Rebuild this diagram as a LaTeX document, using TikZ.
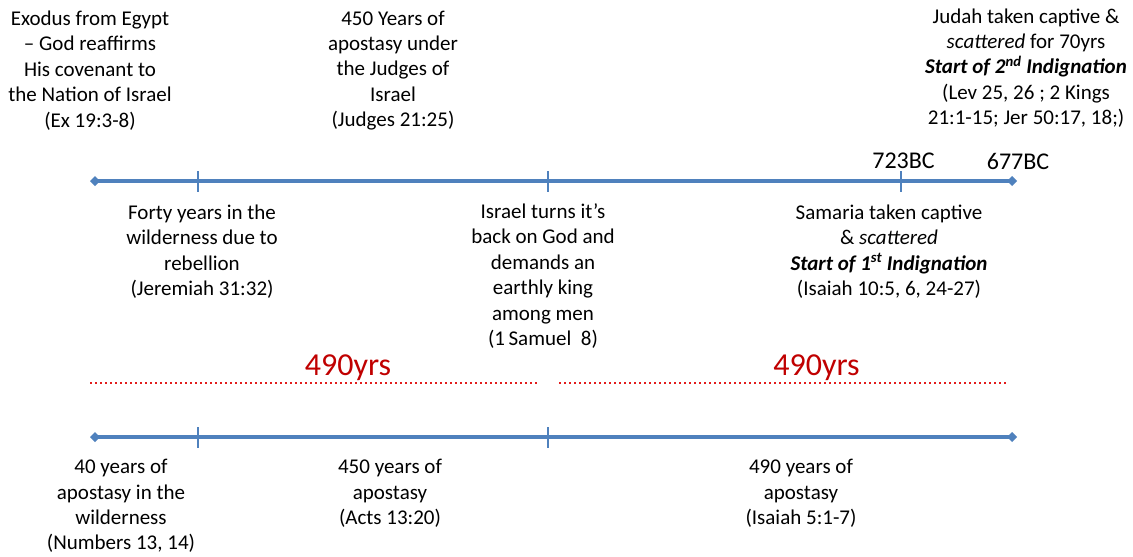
\documentclass[tikz,border=0pt]{standalone}
\usepackage{fontspec}
\setmainfont{Carlito}
\usetikzlibrary{arrows.meta}
\definecolor{lineblue}{RGB}{79,129,189}
\definecolor{spanred}{RGB}{192,0,0}
\definecolor{dotred}{RGB}{226,28,28}
\tikzset{
  axis/.style={lineblue,line width=3.4pt,
               {Turned Square[length=10pt,width=10pt]}-{Turned Square[length=10pt,width=10pt]}},
  tick/.style={lineblue,line width=2.4pt},
  span/.style={dotred,line width=2.6pt,dash pattern=on 2.4pt off 2.6pt},
  event/.style={align=center,inner sep=0pt,font=\fontsize{21}{25.4}\selectfont},
  year/.style={inner sep=0pt,font=\fontsize{24}{28}\selectfont},
  total/.style={inner sep=0pt,text=spanred,font=\fontsize{32}{36}\selectfont},
}

\begin{document}
\begin{tikzpicture}[x=1pt,y=-1pt]
  \path[use as bounding box] (0,0) rectangle (1133,557);

  % upper time line
  \coordinate (UL) at (90,181);
  \coordinate (UR) at (1017,181);
  \coordinate (UA) at (198,181);
  \coordinate (UB) at (548,181);
  \coordinate (UC) at (901,181);
  \draw[axis] (UL) -- (UR);
  \foreach \t in {UA,UB,UC}
    \draw[tick] ([yshift=-10.5pt]\t) -- ([yshift=10.5pt]\t);

  \node[event] (EXO) at (90,70.5)
    {Exodus from Egypt\\– God reaffirms\\His covenant to\\the Nation of Israel\\(Ex 19:3-8)};
  \node[event] (JDG) at (393,70.5)
    {450 Years of\\apostasy under\\the Judges of\\Israel\\(Judges 21:25)};
  \node[event] (JUD) at (1026,68)
    {Judah taken captive \&\\\textit{scattered} for 70yrs\\\textbf{\textit{Start of 2\textsuperscript{nd} Indignation}}\\(Lev 25, 26 ; 2 Kings\\21:1-15; Jer 50:17, 18;)};
  \node[year] (Y723) at (903.5,161) {723BC};
  \node[year] (Y677) at (1018,161) {677BC};

  \node[event] (FRT) at (202,251.5)
    {Forty years in the\\wilderness due to\\rebellion\\(Jeremiah 31:32)};
  \node[event] (KNG) at (543,276)
    {Israel turns it’s\\back on God and\\demands an\\earthly king\\among men\\(1\,Samuel\ \ 8)};
  \node[event] (SAM) at (889,251.5)
    {Samaria taken captive\\\& \textit{scattered}\\\textbf{\textit{Start of 1\textsuperscript{st} Indignation}}\\(Isaiah 10:5, 6, 24-27)};

  % 490 year spans
  \coordinate (SA1) at (90,383);
  \coordinate (SA2) at (539,383);
  \coordinate (SB1) at (559,383);
  \coordinate (SB2) at (1007,383);
  \draw[span] (SA1) -- (SA2);
  \draw[span] (SB1) -- (SB2);
  \node[total] (TA) at (348,368) {490yrs};
  \node[total] (TB) at (816.5,368) {490yrs};

  % lower time line
  \coordinate (LL) at (90,437);
  \coordinate (LR) at (1017,437);
  \coordinate (LA) at (198,437);
  \coordinate (LB) at (548,437);
  \draw[axis] (LL) -- (LR);
  \foreach \t in {LA,LB}
    \draw[tick] ([yshift=-10.5pt]\t) -- ([yshift=10.5pt]\t);

  \node[event] (WLD) at (121,506)
    {40 years of\\apostasy in the\\wilderness\\(Numbers 13, 14)};
  \node[event] (ACT) at (390,493.5)
    {450 years of\\apostasy\\(Acts 13:20)};
  \node[event] (ISA) at (801,493.5)
    {490 years of\\apostasy\\(Isaiah 5:1-7)};
\end{tikzpicture}
\end{document}
